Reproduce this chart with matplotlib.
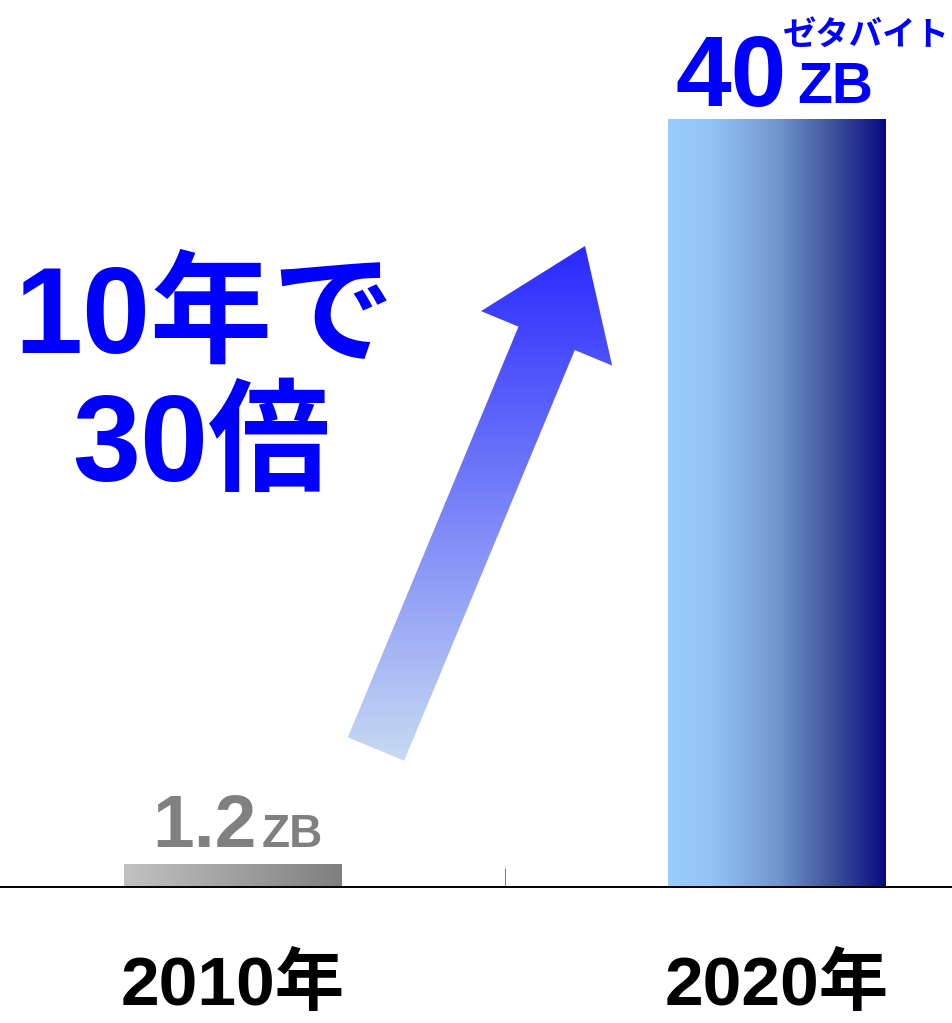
import numpy as np
import matplotlib
matplotlib.use("Agg")
import matplotlib.pyplot as plt
from matplotlib.colors import LinearSegmentedColormap
from matplotlib.patches import FancyArrow
from matplotlib.transforms import offset_copy

# ---------- data ----------
years = ["2010年", "2020年"]
volumes = [1.2, 40]
value_texts = ["1.2", "40"]
unit_text = "ZB"
unit_kana = "ゼタバイト"
headline = ["10年で", "30倍"]

W, H, DPI = 953, 1023, 100
JP = ["Noto Sans CJK JP", "DejaVu Sans"]
LAT = ["Liberation Sans", "Noto Sans CJK JP", "DejaVu Sans"]
BLUE = "#0000ff"

fig = plt.figure(figsize=(W / DPI, H / DPI), dpi=DPI)
ax = fig.add_axes([0, 0, 1, 1])
ax.patch.set_alpha(0)

# ---------- gradient bars ----------
x = np.arange(len(years))
bars = ax.bar(x, volumes, width=0.4, color="none", edgecolor="none", zorder=2)
cmaps = [
    LinearSegmentedColormap.from_list("gray", ["#c2c2c2", "#7f7f7f"]),
    LinearSegmentedColormap.from_list(
        "navy", [(0, "#99ccff"), (0.2, "#93c3f7"), (0.5, "#7097cf"),
                 (0.75, "#3f559c"), (1, "#0a0a80")]),
]
grad = np.linspace(0, 1, 256).reshape(1, -1)
for b, cm in zip(bars, cmaps):
    x0, y0 = b.get_x(), b.get_y()
    im = ax.imshow(grad, extent=(x0, x0 + b.get_width(), y0, y0 + b.get_height()),
                   aspect="auto", cmap=cm, origin="lower", zorder=2)
    im.set_clip_path(b)

# ---------- axes cosmetics ----------
for s in ("left", "right", "top"):
    ax.spines[s].set_visible(False)
ax.spines["bottom"].set_position(("data", 0))
ax.spines["bottom"].set_linewidth(1.4)
ax.spines["bottom"].set_zorder(3)
ax.set_yticks([])
ax.set_xticks(x, labels=years, fontsize=50, fontweight="bold", family=LAT)
ax.set_xticks([0.5], minor=True)
ax.tick_params(axis="x", which="major", length=0, pad=48)
ax.tick_params(axis="x", which="minor", direction="in", length=13.7,
               width=0.75, color="#808080")

# ---------- value labels ----------
label_colors = ["#808080", BLUE]
num_sizes = [54, 72]
unit_sizes = [33, 41]
num_off = [(24, 17), (10, 13)]
unit_off = [(29, 17), (20.5, 16)]
for i, (xi, v) in enumerate(zip(x, volumes)):
    ax.text(xi, v, value_texts[i], ha="right", va="baseline", color=label_colors[i],
            fontsize=num_sizes[i], fontweight="bold", family=LAT,
            transform=offset_copy(ax.transData, fig=fig, x=num_off[i][0],
                                  y=num_off[i][1], units="dots"))
    ax.text(xi, v, unit_text, ha="left", va="baseline", color=label_colors[i],
            fontsize=unit_sizes[i], fontweight="bold", family=LAT,
            transform=offset_copy(ax.transData, fig=fig, x=unit_off[i][0],
                                  y=unit_off[i][1], units="dots"))
ax.text(x[1], volumes[1], unit_kana, ha="left", va="baseline", color=BLUE,
        fontsize=24, fontweight="bold", family=JP,
        transform=offset_copy(ax.transData, fig=fig, x=6, y=74, units="dots"))

# ---------- headline ----------
fig.text(205 / W, 1 - 353 / H, headline[0], ha="center", va="baseline",
         fontsize=88, fontweight="bold", color=BLUE, family=LAT)
fig.text(201 / W, 1 - 481 / H, headline[1], ha="center", va="baseline",
         fontsize=88, fontweight="bold", color=BLUE, family=LAT)

# ---------- gradient arrow (pixel geometry -> inches) ----------
tail = (376, 749)
tip = (585, 246)
arrow = FancyArrow(tail[0] / DPI, (H - tail[1]) / DPI,
                   (tip[0] - tail[0]) / DPI, (tail[1] - tip[1]) / DPI,
                   width=0.61, head_width=1.42, head_length=1.0,
                   length_includes_head=True, transform=fig.dpi_scale_trans,
                   facecolor="none", edgecolor="none")
ax.add_patch(arrow)
arrow_cm = LinearSegmentedColormap.from_list("arr", ["#c8dcf2", "#2828ff"])
vgrad = np.linspace(0, 1, 256).reshape(-1, 1)
px2x = lambda p: (p - 232.5) / 544
px2y = lambda p: (887 - p) / 19.2
aim = ax.imshow(vgrad, extent=(px2x(330), px2x(640), px2y(765), px2y(244)),
                aspect="auto", cmap=arrow_cm, origin="lower", zorder=1)
aim.set_clip_path(arrow)
ax.set_xlim(-0.4274, 1.3244)
ax.set_ylim(-7.083, 46.198)

fig.savefig("out.png", dpi=DPI)
